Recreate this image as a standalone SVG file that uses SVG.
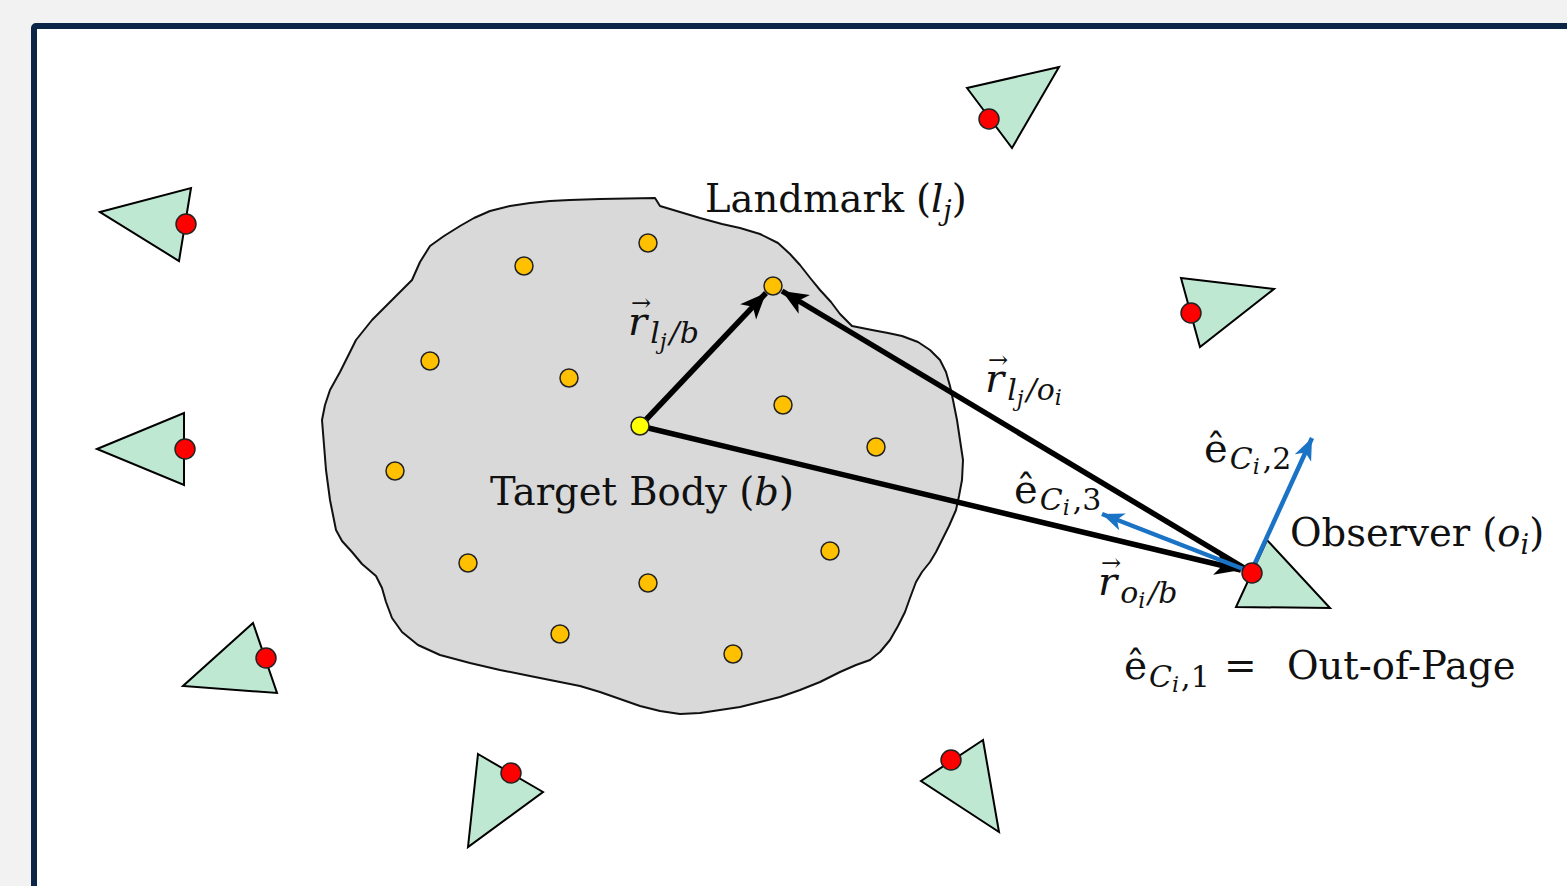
<svg xmlns="http://www.w3.org/2000/svg" width="1567" height="886" viewBox="0 0 1567 886">
<defs>
<style>
.tri{fill:#bfe8d3;stroke:#000;stroke-width:2;stroke-linejoin:miter}
.red{fill:#ff0000;stroke:#222;stroke-width:1.5}
.lm{fill:#ffc000;stroke:#222;stroke-width:1.5}
.lbl{fill:#111}
.it{font-style:italic}
.blk{stroke:#000;stroke-width:5.5;fill:none}
.blu{stroke:#1a73c4;stroke-width:4.5;fill:none}
</style>
<marker id="ah" markerUnits="userSpaceOnUse" markerWidth="30" markerHeight="24" refX="26" refY="11" orient="auto"><path d="M0,0 L26,11 L0,22 L7,11 Z" fill="#000"/></marker>
<marker id="ab" markerUnits="userSpaceOnUse" markerWidth="26" markerHeight="20" refX="22" refY="9" orient="auto"><path d="M0,0 L22,9 L0,18 L6,9 Z" fill="#1a73c4"/></marker>
</defs>
<rect x="0" y="0" width="1567" height="886" fill="#f2f2f2"/>
<rect x="34" y="26" width="1560" height="900" rx="2" fill="#fff" stroke="#0b2547" stroke-width="6"/>

<g id="body">
<path d="M600,199 L655,198 L660,206 L680,212 L700,218 L722,224 L740,228 L760,234 L778,243 L790,254 L800,265 L811,279 L820,290 L831,302 L840,314 L852,326 L872,330 L888,333 L902,336 L918,342 L930,350 L940,360 L946,372 L950,386 L953,400 L957,420 L960,440 L963,460 L962,480 L959,496 L956,510 L949,526 L942,540 L936,552 L930,562 L922,572 L916,582 L910,598 L905,612 L898,626 L890,640 L880,652 L870,660 L856,665 L840,672 L820,682 L800,690 L780,697 L760,702 L740,707 L720,710 L700,713 L680,714 L660,711 L640,706 L620,699 L600,692 L580,686 L560,682 L530,676 L500,670 L470,663 L440,655 L418,645 L402,632 L392,618 L386,602 L382,588 L376,576 L362,564 L352,552 L342,541 L336,530 L333,515 L330,500 L328,485 L326,470 L324,445 L322,420 L325,405 L330,390 L340,372 L348,356 L356,340 L364,330 L372,320 L382,310 L392,300 L402,290 L412,280 L420,262 L430,246 L444,236 L460,226 L474,218 L490,211 L510,206 L530,203 L550,201 L570,200 Z" fill="#d9d9d9" stroke="#111" stroke-width="2" stroke-linejoin="round"/>
</g>

<g id="landmarks">
<circle class="lm" cx="648" cy="243" r="9"/>
<circle class="lm" cx="524" cy="266" r="9"/>
<circle class="lm" cx="773" cy="286" r="9"/>
<circle class="lm" cx="430" cy="361" r="9"/>
<circle class="lm" cx="569" cy="378" r="9"/>
<circle class="lm" cx="783" cy="405" r="9"/>
<circle class="lm" cx="876" cy="447" r="9"/>
<circle class="lm" cx="395" cy="471" r="9"/>
<circle class="lm" cx="468" cy="563" r="9"/>
<circle class="lm" cx="648" cy="583" r="9"/>
<circle class="lm" cx="830" cy="551" r="9"/>
<circle class="lm" cx="560" cy="634" r="9"/>
<circle class="lm" cx="733" cy="654" r="9"/>
</g>

<g id="cameras">
<g id="cam1"><polygon class="tri" points="100,212 191,188 179,261"/><circle class="red" cx="186" cy="224" r="10"/></g>
<g id="cam2"><polygon class="tri" points="97,449 184,413 184,485"/><circle class="red" cx="185" cy="449" r="10"/></g>
<g id="cam3"><polygon class="tri" points="253,623 183,686 277,693"/><circle class="red" cx="266" cy="658" r="10"/></g>
<g id="cam4"><polygon class="tri" points="478,754 543,792 468,847"/><circle class="red" cx="511" cy="773" r="10"/></g>
<g id="cam5"><polygon class="tri" points="983,740 921,781 999,832"/><circle class="red" cx="951" cy="760" r="10"/></g>
<g id="cam6"><polygon class="tri" points="967,88 1059,67 1012,148"/><circle class="red" cx="989" cy="119" r="10"/></g>
<g id="cam7"><polygon class="tri" points="1181,278 1274,289 1200,347"/><circle class="red" cx="1191" cy="313" r="10"/></g>
<g id="observer-tri"><polygon class="tri" points="1267,540 1236,607 1330,608"/></g>
</g>

<g id="connectors">
<line class="blk" x1="640" y1="426" x2="766" y2="293" marker-end="url(#ah)"/>
<line class="blk" x1="1251" y1="572" x2="782" y2="291" marker-end="url(#ah)"/>
<line class="blk" x1="640" y1="426" x2="1241" y2="570" marker-end="url(#ah)"/>
<line class="blu" x1="1251" y1="572" x2="1102" y2="514" marker-end="url(#ab)"/>
<line class="blu" x1="1251" y1="572" x2="1312" y2="438" marker-end="url(#ab)"/>
</g>

<g id="points">
<circle cx="640" cy="426" r="9" fill="#ffff00" stroke="#222" stroke-width="1.5"/>
<circle class="red" cx="1252" cy="573" r="10"/>
</g>

<g id="labels" font-family="DejaVu Serif, serif" class="lbl">
<text x="705" y="212" font-size="38.5">Landmark <tspan x="916">(</tspan><tspan class="it">l</tspan><tspan class="it" font-size="27" dy="8">j</tspan><tspan dy="-8">)</tspan></text>
<text x="490" y="505" font-size="38.5">Target Body (<tspan class="it">b</tspan>)</text>
<text x="1290" y="546" font-size="38.5">Observer (<tspan class="it">o</tspan><tspan class="it" font-size="27" dy="8">i</tspan><tspan dy="-8">)</tspan></text>
<text x="1124" y="679" font-size="39">ê<tspan class="it" font-size="30" dy="8" dx="2">C</tspan><tspan class="it" font-size="22" dy="5">i</tspan><tspan font-size="30" dy="-5" dx="2">,1</tspan><tspan x="1224" dy="-8">=</tspan><tspan x="1287" font-size="38.5">Out-of-Page</tspan></text>

<text font-size="40"><tspan x="631" y="311" font-size="24">→</tspan><tspan class="it" x="628" y="335">r</tspan><tspan class="it" font-size="30" dy="8" dx="3">l</tspan><tspan class="it" font-size="22" dy="6">j</tspan><tspan class="it" font-size="30" dy="-6" dx="3">/b</tspan></text>
<text font-size="40"><tspan x="988" y="368" font-size="24">→</tspan><tspan class="it" x="985" y="392">r</tspan><tspan class="it" font-size="30" dy="8" dx="3">l</tspan><tspan class="it" font-size="22" dy="6">j</tspan><tspan class="it" font-size="30" dy="-6" dx="3">/o</tspan><tspan class="it" font-size="22" dy="5">i</tspan></text>
<text x="1014" y="503" font-size="40">ê<tspan class="it" font-size="30" dy="7" dx="2">C</tspan><tspan class="it" font-size="22" dy="5">i</tspan><tspan font-size="30" dy="-5" dx="3">,3</tspan></text>
<text x="1204" y="462" font-size="40">ê<tspan class="it" font-size="30" dy="7" dx="2">C</tspan><tspan class="it" font-size="22" dy="5">i</tspan><tspan font-size="30" dy="-5" dx="3">,2</tspan></text>
<text font-size="40"><tspan x="1101" y="571" font-size="24">→</tspan><tspan class="it" x="1098" y="595">r</tspan><tspan class="it" font-size="30" dy="8" dx="3">o</tspan><tspan class="it" font-size="22" dy="5">i</tspan><tspan class="it" font-size="30" dy="-5" dx="3">/b</tspan></text>
</g>
</svg>
